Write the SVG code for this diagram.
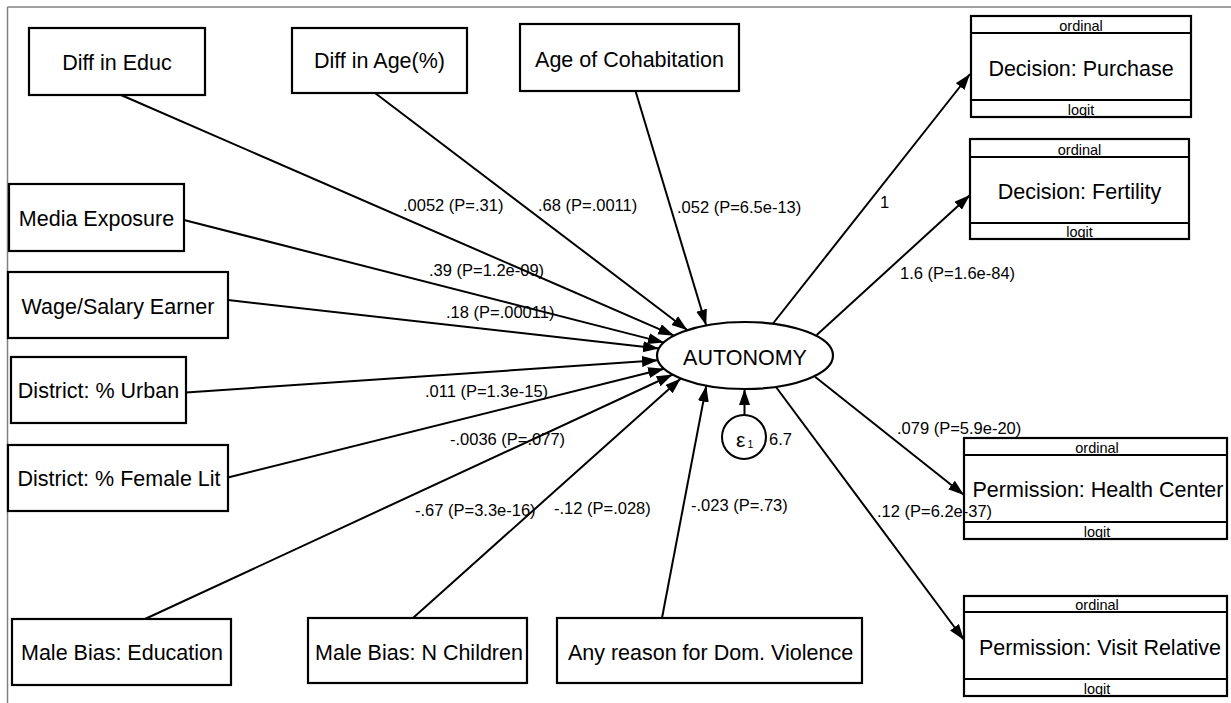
<svg xmlns="http://www.w3.org/2000/svg" width="1231" height="703" viewBox="0 0 1231 703">
<style>
  .box { fill: #fff; stroke: #000; stroke-width: 2.2; }
  .div { stroke: #000; stroke-width: 2.2; }
  .nt { font-family: "Liberation Sans", Arial, sans-serif; font-size: 21.5px; fill: #000; text-anchor: middle; }
  .st { font-family: "Liberation Sans", Arial, sans-serif; font-size: 14.5px; fill: #000; text-anchor: middle; }
  .lbl { font-family: "Liberation Sans", Arial, sans-serif; font-size: 16.5px; fill: #000; }
  .path { stroke: #000; stroke-width: 2; fill: none; marker-end: url(#ah); }
  .frame { stroke: #808080; stroke-width: 1.5; fill: none; }
</style>
<defs>
  <marker id="ah" markerUnits="userSpaceOnUse" markerWidth="17" markerHeight="12" refX="16" refY="5.5" orient="auto">
    <path d="M0,0 L16,5.5 L0,11 z" fill="#000"/>
  </marker>
</defs>
<rect x="0" y="0" width="1231" height="703" fill="#fff"/>
<g id="frame">
  <line class="frame" x1="7.5" y1="7" x2="1231" y2="7"/>
  <line class="frame" x1="7.5" y1="7" x2="7.5" y2="703"/>
</g>
<g id="connectors">
  <line class="path" x1="121" y1="95" x2="674.2" y2="335.7"/>
  <line class="path" x1="375" y1="93" x2="687.5" y2="330.2"/>
  <line class="path" x1="635.5" y1="91" x2="706.2" y2="325.5"/>
  <line class="path" x1="184" y1="220" x2="664" y2="342.6"/>
  <line class="path" x1="228" y1="300" x2="659" y2="348.6"/>
  <line class="path" x1="186" y1="392.5" x2="658" y2="360.3"/>
  <line class="path" x1="228" y1="477.5" x2="664.2" y2="368.8"/>
  <line class="path" x1="145" y1="619" x2="672.7" y2="374.5"/>
  <line class="path" x1="413" y1="618" x2="680.8" y2="378.4"/>
  <line class="path" x1="662" y1="618" x2="706.3" y2="385.7"/>
  <line class="path" x1="773" y1="323.5" x2="970" y2="74"/>
  <line class="path" x1="816.7" y1="335" x2="970" y2="195"/>
  <line class="path" x1="815" y1="376.7" x2="964" y2="495"/>
  <line class="path" x1="776" y1="387" x2="964" y2="640"/>
  <line class="path" x1="744.5" y1="415" x2="744.5" y2="389"/>
</g>
<g id="diff_educ"><rect class="box" x="29" y="28" width="176" height="67"/><text class="nt" x="117" y="69.5">Diff in Educ</text></g>
<g id="diff_age"><rect class="box" x="292" y="28" width="175" height="65"/><text class="nt" x="379.5" y="68.3">Diff in Age(%)</text></g>
<g id="age_cohab"><rect class="box" x="520" y="24" width="219" height="67"/><text class="nt" x="629.5" y="67">Age of Cohabitation</text></g>
<g id="media"><rect class="box" x="9" y="184" width="175" height="67"/><text class="nt" x="96.5" y="226">Media Exposure</text></g>
<g id="wage"><rect class="box" x="8" y="272" width="220" height="66"/><text class="nt" x="118" y="313.5">Wage/Salary Earner</text></g>
<g id="urban"><rect class="box" x="11" y="357" width="175" height="66"/><text class="nt" x="98.5" y="398">District: % Urban</text></g>
<g id="femlit"><rect class="box" x="8" y="445" width="220" height="66"/><text class="nt" x="119" y="486">District: % Female Lit</text></g>
<g id="mb_educ"><rect class="box" x="12" y="619" width="219" height="66"/><text class="nt" x="122" y="660">Male Bias: Education</text></g>
<g id="mb_nchild"><rect class="box" x="308" y="618" width="219" height="65"/><text class="nt" x="419" y="659.5">Male Bias: N Children</text></g>
<g id="domviol"><rect class="box" x="557" y="618" width="305" height="65"/><text class="nt" x="710.5" y="659.5">Any reason for Dom. Violence</text></g>
<g id="autonomy">
  <ellipse cx="745" cy="355.5" rx="88" ry="33.5" fill="#fff" stroke="#000" stroke-width="2.2"/>
  <text class="nt" x="745" y="365">AUTONOMY</text>
</g>
<g id="e1">
  <circle cx="744" cy="437" r="22" fill="#fff" stroke="#000" stroke-width="2"/>
  <text font-family="'Liberation Sans', Arial, sans-serif" font-size="21" x="736" y="447">ε</text>
  <text font-family="'Liberation Sans', Arial, sans-serif" font-size="10.5" x="747.5" y="448">1</text>
  <text class="lbl" x="769" y="445">6.7</text>
</g>
<g id="purchase">
  <rect x="971" y="16" width="220" height="101" fill="#fff"/>
  <text class="st" x="1081" y="30.5">ordinal</text>
  <text class="nt" x="1081" y="75.5">Decision: Purchase</text>
  <text class="st" x="1081" y="115">logit</text>
  <rect x="971" y="16" width="220" height="101" fill="none" stroke="#000" stroke-width="2.2"/>
  <line class="div" x1="971" y1="33" x2="1191" y2="33"/>
  <line class="div" x1="971" y1="100" x2="1191" y2="100"/>
</g>
<g id="fertility">
  <rect x="970" y="139" width="219" height="100" fill="#fff"/>
  <text class="st" x="1079.5" y="154.5">ordinal</text>
  <text class="nt" x="1079.5" y="199">Decision: Fertility</text>
  <text class="st" x="1079.5" y="237">logit</text>
  <rect x="970" y="139" width="219" height="100" fill="none" stroke="#000" stroke-width="2.2"/>
  <line class="div" x1="970" y1="157" x2="1189" y2="157"/>
  <line class="div" x1="970" y1="223" x2="1189" y2="223"/>
</g>
<g id="health">
  <rect x="964" y="438" width="263" height="101" fill="#fff"/>
  <text class="st" x="1097" y="453">ordinal</text>
  <text class="nt" x="1098" y="497">Permission: Health Center</text>
  <text class="st" x="1097" y="537">logit</text>
  <rect x="964" y="438" width="263" height="101" fill="none" stroke="#000" stroke-width="2.2"/>
  <line class="div" x1="964" y1="455" x2="1227" y2="455"/>
  <line class="div" x1="964" y1="522" x2="1227" y2="522"/>
</g>
<g id="visit">
  <rect x="964" y="596" width="263" height="100" fill="#fff"/>
  <text class="st" x="1097" y="610">ordinal</text>
  <text class="nt" x="1100" y="655">Permission: Visit Relative</text>
  <text class="st" x="1097" y="694">logit</text>
  <rect x="964" y="596" width="263" height="100" fill="none" stroke="#000" stroke-width="2.2"/>
  <line class="div" x1="964" y1="612" x2="1227" y2="612"/>
  <line class="div" x1="964" y1="679" x2="1227" y2="679"/>
</g>
<g id="connector_labels">
  <text class="lbl" x="403" y="211">.0052 (P=.31)</text>
  <text class="lbl" x="538" y="211">.68 (P=.0011)</text>
  <text class="lbl" x="677" y="212.5">.052 (P=6.5e-13)</text>
  <text class="lbl" x="880" y="208">1</text>
  <text class="lbl" x="429" y="276">.39 (P=1.2e-09)</text>
  <text class="lbl" x="900" y="279">1.6 (P=1.6e-84)</text>
  <text class="lbl" x="446" y="318">.18 (P=.00011)</text>
  <text class="lbl" x="425" y="397">.011 (P=1.3e-15)</text>
  <text class="lbl" x="897" y="433.5">.079 (P=5.9e-20)</text>
  <text class="lbl" x="450" y="445">-.0036 (P=.077)</text>
  <text class="lbl" x="877" y="516.5">.12 (P=6.2e-37)</text>
  <text class="lbl" x="415" y="516">-.67 (P=3.3e-16)</text>
  <text class="lbl" x="554" y="513.5">-.12 (P=.028)</text>
  <text class="lbl" x="691" y="511">-.023 (P=.73)</text>
</g>
</svg>
